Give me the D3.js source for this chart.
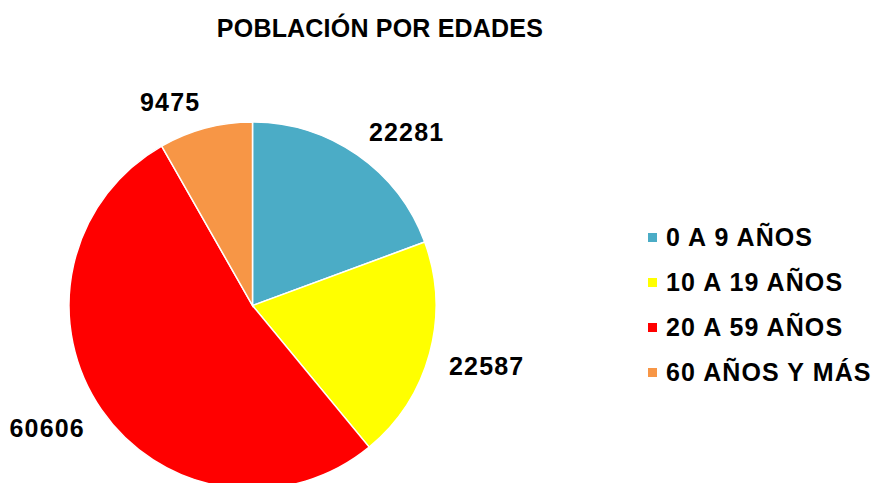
<!DOCTYPE html>
<html lang="es">
<head>
  <meta charset="UTF-8">
  <title>Población por edades</title>
  <script src="https://d3js.org/d3.v7.min.js"></script>
  <style>
    body { margin: 0; background: #fff; }
    svg { display: block; font-family: "Liberation Sans", Arial, sans-serif; font-weight: bold; }
  </style>
</head>
<body>
  <svg id="chart" width="875" height="483"></svg>
  <script>
    const categories = ["0 A 9 AÑOS", "10 A 19 AÑOS", "20 A 59 AÑOS", "60 AÑOS Y MÁS"];
    const values = [22281, 22587, 60606, 9475];
    const colors = ["#4BACC6", "#FFFF00", "#FF0000", "#F79646"];

    const svg = d3.select("#chart");
    const cx = 252.5, cy = 305.5, radius = 183.5;

    svg.append("text")
      .attr("x", 380).attr("y", 37)
      .attr("text-anchor", "middle")
      .attr("font-size", 25)
      .attr("letter-spacing", 0.2)
      .text("POBLACIÓN POR EDADES");

    const pie = d3.pie().sort(null).value(d => d.value);
    const arcs = pie(categories.map((c, i) => ({ name: c, value: values[i], color: colors[i] })));
    const arc = d3.arc().innerRadius(0).outerRadius(radius);

    const g = svg.append("g").attr("transform", `translate(${cx},${cy})`);

    g.selectAll("path")
      .data(arcs)
      .join("path")
      .attr("d", arc)
      .attr("fill", d => d.data.color)
      .attr("stroke", "#fff")
      .attr("stroke-width", 1.5);

    // labels just outside the edge, anchored away from the pie
    const labelR = radius + 20;
    g.selectAll("text.lbl")
      .data(arcs)
      .join("text")
      .attr("class", "lbl")
      .attr("font-size", 25)
      .attr("letter-spacing", 1.2)
      .each(function(d) {
        const a = (d.startAngle + d.endAngle) / 2;
        const x = labelR * Math.sin(a), y = -labelR * Math.cos(a);
        d3.select(this)
          .attr("x", x)
          .attr("y", Math.cos(a) > 0 ? y + 2 : y + 16)
          .attr("text-anchor", Math.sin(a) >= 0 ? "start" : "end");
      })
      .text(d => d.data.value);

    // legend
    const legend = svg.append("g").attr("transform", "translate(648,237)");
    const row = legend.selectAll("g")
      .data(categories)
      .join("g")
      .attr("transform", (d, i) => `translate(0,${i * 45})`);
    row.append("rect")
      .attr("x", 0).attr("y", -4)
      .attr("width", 9).attr("height", 9)
      .attr("fill", (d, i) => colors[i]);
    row.append("text")
      .attr("x", 18).attr("y", 9)
      .attr("font-size", 25)
      .attr("letter-spacing", 1.1)
      .text(d => d);
  </script>
</body>
</html>
